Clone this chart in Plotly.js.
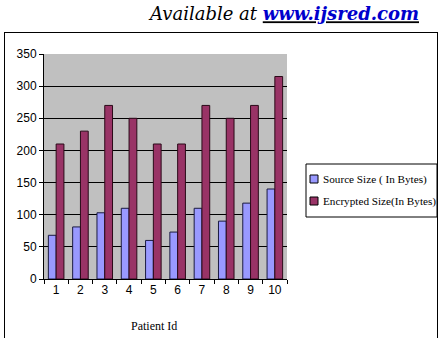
<!DOCTYPE html>
<html><head><meta charset="utf-8">
<script src="https://cdn.plot.ly/plotly-3.0.1.min.js"></script>
<style>html,body{margin:0;padding:0;background:#fff}
#wrap{position:relative;width:440px;height:338px;overflow:hidden}
#chart{width:440px;height:338px}
#frame{position:absolute;left:4px;top:32px;width:432px;height:320px;border:1.5px solid #000;pointer-events:none}
</style>
</head><body><div id="wrap"><div id="chart"></div><div id="frame"></div></div>
<script>
const patientIds = ['1','2','3','4','5','6','7','8','9','10'];
const sourceSize = [68, 81, 103, 110, 60, 73, 110, 90, 118, 140];
const encryptedSize = [210, 230, 270, 250, 210, 210, 270, 250, 270, 315];
const seriesNames = ['Source Size ( In Bytes)', 'Encrypted Size(In Bytes)'];
const seriesColors = ['#9999ff', '#993366'];
const seriesEdges = ['#1a1a40', '#2a0a18'];
const yTicks = [0, 50, 100, 150, 200, 250, 300, 350];

const traces = [
  {type:'bar', x:patientIds, y:sourceSize, name:seriesNames[0],
   marker:{color:seriesColors[0], line:{color:seriesEdges[0], width:1}}},
  {type:'bar', x:patientIds, y:encryptedSize, name:seriesNames[1],
   marker:{color:seriesColors[1], line:{color:seriesEdges[1], width:1}}}
];
const L = 44, R = 153, T = 54, B = 59, W = 440, H = 338;
const pw = W - L - R, ph = H - T - B;
const px = v => (v - L) / pw, py = v => (H - B - v) / ph;

const shapes = [
  {type: 'rect', xref: 'paper', yref: 'paper', x0: px(306), x1: px(437), y0: py(217), y1: py(164),
   line: {color: '#000', width: 1}, fillcolor: '#fff'}
];
const annotations = [
  {xref: 'paper', yref: 'paper', x: px(154), y: py(326), xanchor: 'center', yanchor: 'middle', showarrow: false,
   text: 'Patient Id', font: {family: 'Liberation Serif, Times New Roman', size: 12, color: '#000'}}
];
seriesNames.forEach((nm, i) => {
  const cy = 179 + i * 22;
  shapes.push({type: 'rect', xref: 'paper', yref: 'paper', x0: px(310), x1: px(318), y0: py(cy + 4), y1: py(cy - 4),
    fillcolor: seriesColors[i], line: {color: '#000', width: 1}});
  annotations.push({xref: 'paper', yref: 'paper', x: px(321), y: py(cy), xanchor: 'left', yanchor: 'middle',
    showarrow: false, text: nm, font: {family: 'Liberation Serif, Times New Roman', size: 11.2, color: '#000'}});
});

const layout = {
  width: W, height: H,
  margin: {l: L, r: R, t: T, b: B, pad: 0},
  paper_bgcolor: '#ffffff', plot_bgcolor: '#c0c0c0',
  barmode: 'group', bargap: 0.36, bargroupgap: 0,
  font: {family: 'Liberation Sans, Arial', size: 12, color: '#000'},
  title: {text: '<i>Available at </i><b><i><u><span style="color:#0000cc">www.ijsred.com</span></u></i></b>',
    xref: 'container', yref: 'container', x: 419 / W, y: 1 - 14 / H, xanchor: 'right', yanchor: 'middle',
    font: {family: 'DejaVu Serif, Liberation Serif', size: 18, color: '#000'}},
  xaxis: {type: 'category', showline: true, linecolor: '#000', linewidth: 1,
    ticks: 'outside', tickson: 'boundaries', ticklen: 4, tickcolor: '#000', showgrid: false,
    tickfont: {family: 'Liberation Sans, Arial', size: 12}},
  yaxis: {range: [0, 350], tickvals: yTicks, showline: true, linecolor: '#000', linewidth: 1,
    ticks: 'outside', ticklen: 4, tickcolor: '#000', showgrid: true, gridcolor: '#000', gridwidth: 1,
    zeroline: false, tickfont: {family: 'Liberation Sans, Arial', size: 12}},
  shapes: shapes,
  annotations: annotations,
  showlegend: false
};
Plotly.newPlot('chart', traces, layout, {displayModeBar: false, staticPlot: true});
</script></body></html>
